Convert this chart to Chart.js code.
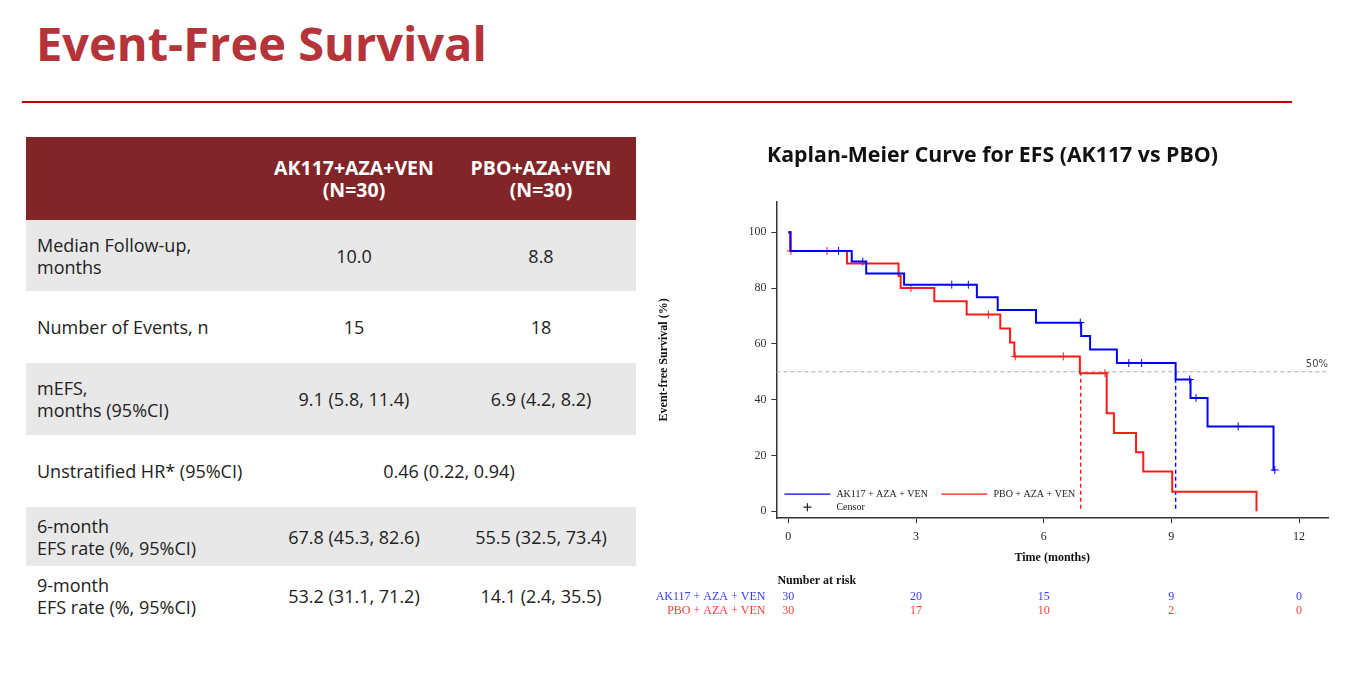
<!DOCTYPE html>
<html>
<head>
<meta charset="utf-8">
<title>Event-Free Survival</title>
<script src="https://cdn.jsdelivr.net/npm/chart.js@4.4.1/dist/chart.umd.min.js"></script>
<style>
  html, body { margin: 0; padding: 0; background: #fff; }
  body { width: 1356px; height: 678px; position: relative; overflow: hidden; font-family: 'Open Sans', 'Noto Sans', sans-serif; }
  h1 { position: absolute; left: 36px; top: 11px; margin: 0; font-size: 47px; line-height: 64px; font-weight: 700; color: #b4343a; }
  .rule { position: absolute; left: 22px; top: 101px; width: 1270px; height: 2px; background: #c00000; }
  table { position: absolute; left: 26px; top: 137px; border-collapse: collapse; font-size: 18px; color: #222; }
  th { background: #822528; color: #fff; font-weight: 700; font-size: 19.5px; line-height: 22px; height: 83px; padding: 0; }
  td { line-height: 22px; text-align: center; padding: 0; }
  td.lab { text-align: left; padding-left: 11px; }
  tr.g td { background: #e8e8e8; }
  #chartBox { position: absolute; left: 645px; top: 130px; width: 695px; height: 495px; }
</style>
</head>
<body>
<h1>Event-Free Survival</h1>
<div class="rule"></div>

<table>
  <tr><th style="width:236px"></th><th style="width:184px">AK117+AZA+VEN<br>(N=30)</th><th style="width:190px">PBO+AZA+VEN<br>(N=30)</th></tr>
  <tr class="g" style="height:71px"><td class="lab">Median Follow-up,<br>months</td><td>10.0</td><td>8.8</td></tr>
  <tr style="height:72px"><td class="lab">Number of Events, n</td><td>15</td><td>18</td></tr>
  <tr class="g" style="height:72px"><td class="lab">mEFS,<br>months (95%CI)</td><td>9.1 (5.8, 11.4)</td><td>6.9 (4.2, 8.2)</td></tr>
  <tr style="height:72px"><td class="lab">Unstratified HR* (95%CI)</td><td colspan="2">0.46 (0.22, 0.94)</td></tr>
  <tr class="g" style="height:59px"><td class="lab">6-month<br>EFS rate (%, 95%CI)</td><td>67.8 (45.3, 82.6)</td><td>55.5 (32.5, 73.4)</td></tr>
  <tr style="height:60px"><td class="lab">9-month<br>EFS rate (%, 95%CI)</td><td>53.2 (31.1, 71.2)</td><td>14.1 (2.4, 35.5)</td></tr>
</table>

<div id="chartBox"><canvas id="kmChart"></canvas></div>

<script>
// Axis ticks
const xTicks = [0, 3, 6, 9, 12];
const yTicks = [0, 20, 40, 60, 80, 100];

// AK117 + AZA + VEN: event times (months) and survival (%) after each step
const blueTimes = [0.05, 1.49, 1.83, 2.72, 4.43, 4.92, 5.82, 6.88, 7.09, 7.72, 9.10, 9.45, 9.85, 11.40];
const blueSurv = [93.3, 89.5, 85.2, 81.2, 76.7, 72.1, 67.6, 62.8, 58.0, 53.1, 47.2, 40.6, 30.4, 14.8];
const blueEnd = 11.43;
const blueCensor = [1.18, 1.75, 3.84, 4.23, 6.86, 8.00, 8.30, 9.43, 9.58, 10.57, 11.43];

// PBO + AZA + VEN
const redTimes = [0.05, 1.38, 2.59, 2.64, 3.43, 4.19, 4.98, 5.21, 5.31, 6.85, 7.48, 7.65, 8.17, 8.34, 9.02, 11.00];
const redSurv = [93.3, 88.8, 84.3, 80.0, 75.3, 70.5, 65.5, 60.5, 55.5, 49.5, 35.1, 28.0, 21.1, 14.2, 7.0, 0];
const redCensor = [0.06, 0.91, 2.88, 4.70, 5.33, 6.46, 7.44];

// Medians (months)
const medianBlue = 9.1;
const medianRed = 6.87;

// Number at risk at each x tick
const riskBlue = [30, 20, 15, 9, 0];
const riskRed = [30, 17, 10, 2, 0];

const blueName = 'AK117 + AZA + VEN';
const redName = 'PBO + AZA + VEN';
const blueColor = '#0000ff';
const redColor = '#ff1a1a';

const xMin = -0.28, xMax = 12.68;
const serif = '"Liberation Serif", "Times New Roman", serif';

function kmPoints(times, surv, end) {
    const pts = [{ x: 0, y: 100 }];
    times.forEach((t, i) => pts.push({ x: t, y: surv[i] }));
    if (end !== undefined) pts.push({ x: end, y: surv[surv.length - 1] });
    return pts;
}

// survival value of the step curve at time t
function survAt(times, surv, t) {
    let s = 100;
    times.forEach((ti, i) => { if (ti <= t) s = surv[i]; });
    return s;
}

function censorPoints(censor, times, surv) {
    return censor.map(t => ({ x: t, y: survAt(times, surv, t) }));
}

// legend, 50% label and risk table
const extras = {
    id: 'extras',
    afterDraw(chart) {
        const { ctx, chartArea: a, scales: { x, y } } = chart;
        ctx.save();

        ctx.font = '10px "DejaVu Sans", sans-serif';
        ctx.fillStyle = '#444';
        ctx.textAlign = 'right';
        ctx.textBaseline = 'bottom';
        ctx.fillText('50%', a.right, y.getPixelForValue(50) - 2);

        // legend inside the plot
        const ly1 = a.bottom - 24, ly2 = a.bottom - 11;
        ctx.font = '10px ' + serif;
        ctx.textAlign = 'left';
        ctx.textBaseline = 'middle';
        ctx.lineWidth = 1.2;
        ctx.strokeStyle = blueColor;
        ctx.beginPath(); ctx.moveTo(a.left + 8, ly1); ctx.lineTo(a.left + 54, ly1); ctx.stroke();
        ctx.fillStyle = '#222';
        ctx.fillText(blueName, a.left + 60, ly1);
        ctx.strokeStyle = redColor;
        ctx.beginPath(); ctx.moveTo(a.left + 165, ly1); ctx.lineTo(a.left + 211, ly1); ctx.stroke();
        ctx.fillText(redName, a.left + 217, ly1);
        ctx.strokeStyle = '#222';
        ctx.beginPath();
        ctx.moveTo(a.left + 27, ly2); ctx.lineTo(a.left + 35, ly2);
        ctx.moveTo(a.left + 31, ly2 - 4); ctx.lineTo(a.left + 31, ly2 + 4);
        ctx.stroke();
        ctx.fillText('Censor', a.left + 60, ly2);

        // number at risk
        ctx.font = 'bold 12px ' + serif;
        ctx.fillStyle = '#111';
        ctx.fillText('Number at risk', a.left + 1, a.bottom + 63);
        ctx.font = '12px ' + serif;
        ctx.textAlign = 'right';
        ctx.fillStyle = '#3a3aff';
        ctx.fillText(blueName, a.left - 11, a.bottom + 79);
        ctx.fillStyle = '#ff3a3a';
        ctx.fillText(redName, a.left - 11, a.bottom + 93);
        ctx.textAlign = 'center';
        xTicks.forEach((t, i) => {
            const px = x.getPixelForValue(t);
            ctx.fillStyle = '#3a3aff';
            ctx.fillText(String(riskBlue[i]), px, a.bottom + 79);
            ctx.fillStyle = '#ff3a3a';
            ctx.fillText(String(riskRed[i]), px, a.bottom + 93);
        });
        ctx.restore();
    }
};

const ctx = document.getElementById('kmChart').getContext('2d');
const kmChart = new Chart(ctx, {
    type: 'scatter',
    data: {
        datasets: [
            {
                label: blueName,
                data: kmPoints(blueTimes, blueSurv, blueEnd),
                showLine: true,
                stepped: 'before',
                borderColor: blueColor,
                borderWidth: 2,
                pointRadius: 0
            },
            {
                label: redName,
                data: kmPoints(redTimes, redSurv),
                showLine: true,
                stepped: 'before',
                borderColor: redColor,
                borderWidth: 2,
                pointRadius: 0
            },
            {
                label: 'Censor blue',
                data: censorPoints(blueCensor, blueTimes, blueSurv),
                pointStyle: 'cross',
                pointRadius: 4,
                borderColor: blueColor,
                borderWidth: 1,
                showLine: false
            },
            {
                label: 'Censor red',
                data: censorPoints(redCensor, redTimes, redSurv),
                pointStyle: 'cross',
                pointRadius: 4,
                borderColor: redColor,
                borderWidth: 1,
                showLine: false
            },
            {
                label: '50%',
                data: [{ x: xMin, y: 50 }, { x: xMax, y: 50 }],
                showLine: true,
                borderColor: '#aaaaaa',
                borderWidth: 1.2,
                borderDash: [4, 3],
                pointRadius: 0
            },
            {
                label: 'Median red',
                data: [{ x: medianRed, y: 50 }, { x: medianRed, y: 0 }],
                showLine: true,
                borderColor: redColor,
                borderWidth: 1.4,
                borderDash: [4, 3],
                pointRadius: 0
            },
            {
                label: 'Median blue',
                data: [{ x: medianBlue, y: 50 }, { x: medianBlue, y: 0 }],
                showLine: true,
                borderColor: blueColor,
                borderWidth: 1.4,
                borderDash: [4, 3],
                pointRadius: 0
            }
        ]
    },
    options: {
        responsive: true,
        maintainAspectRatio: false,
        animation: false,
        layout: { padding: { left: 12, right: 12, top: 0, bottom: 60 } },
        plugins: {
            legend: { display: false },
            tooltip: { enabled: false },
            title: {
                display: true,
                text: 'Kaplan-Meier Curve for EFS (AK117 vs PBO)',
                color: '#111',
                font: { family: 'Open Sans', size: 21.3, weight: 'bold' },
                padding: { top: 13, bottom: 33 }
            }
        },
        scales: {
            x: {
                type: 'linear',
                min: xMin,
                max: xMax,
                afterBuildTicks: s => { s.ticks = xTicks.map(v => ({ value: v })); },
                grid: { drawOnChartArea: false, tickLength: 5, color: '#333' },
                border: { color: '#333', width: 1.5 },
                ticks: { font: { family: serif, size: 12 }, color: '#222', padding: 6, maxRotation: 0, autoSkip: false },
                title: {
                    display: true,
                    text: 'Time (months)',
                    color: '#111',
                    font: { family: serif, size: 12, weight: 'bold' },
                    padding: { top: 1, bottom: 0 }
                }
            },
            y: {
                min: -2.5,
                max: 111,
                afterBuildTicks: s => { s.ticks = yTicks.map(v => ({ value: v })); },
                grid: { drawOnChartArea: false, tickLength: 5, color: '#333' },
                border: { color: '#333', width: 1.5 },
                ticks: { font: { family: serif, size: 12 }, color: '#333', padding: 5, autoSkip: false },
                title: {
                    display: true,
                    text: 'Event-free Survival (%)',
                    color: '#111',
                    font: { family: serif, size: 12, weight: 'bold' },
                    padding: { top: 0, bottom: 72 }
                }
            }
        }
    },
    plugins: [extras]
});
</script>
</body>
</html>
